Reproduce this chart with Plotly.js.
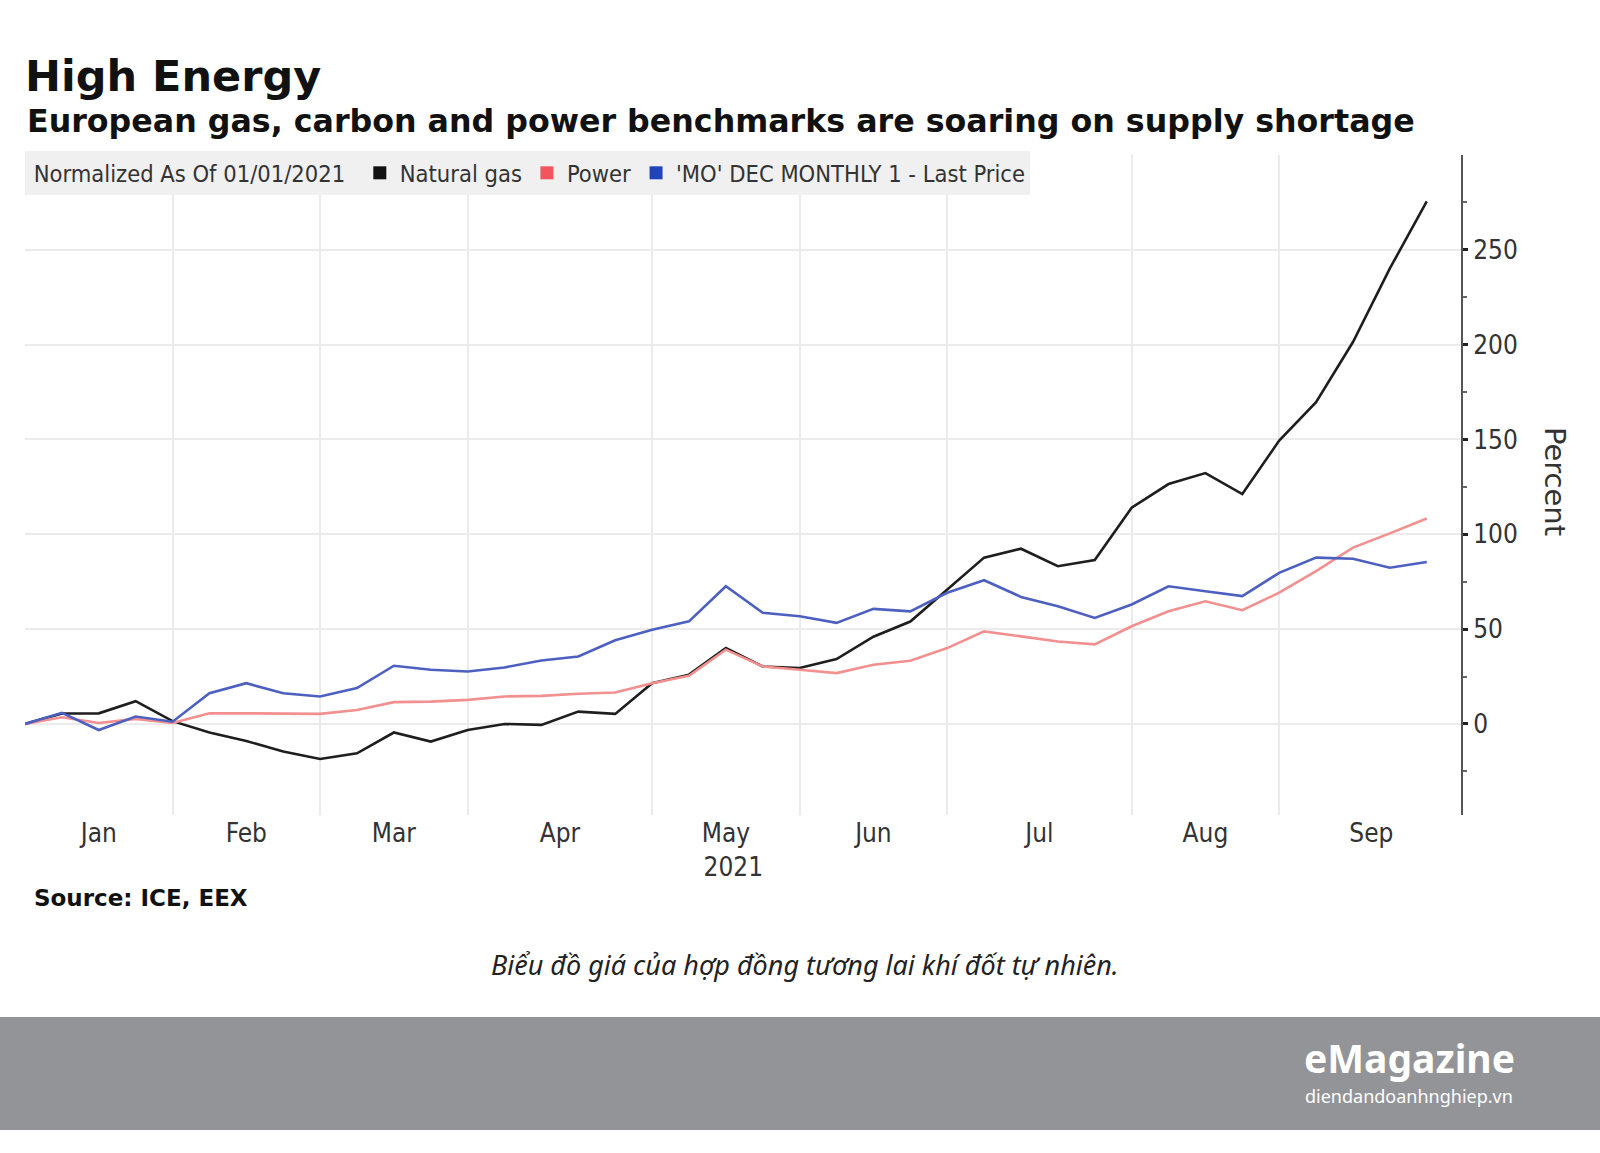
<!DOCTYPE html>
<html>
<head>
<meta charset="utf-8">
<script src="https://cdn.plot.ly/plotly-3.0.1.min.js"></script>
<style>
  html, body { margin: 0; padding: 0; background: #ffffff; }
  #chart { width: 1600px; height: 1153px; }
</style>
</head>
<body>
<div id="chart"></div>
<script>
// ---- Data (weekly, normalized % change since 01/01/2021) ----
const dates = [
  "2021-01-01","2021-01-08","2021-01-15","2021-01-22","2021-01-29",
  "2021-02-05","2021-02-12","2021-02-19","2021-02-26",
  "2021-03-05","2021-03-12","2021-03-19","2021-03-26",
  "2021-04-02","2021-04-09","2021-04-16","2021-04-23","2021-04-30",
  "2021-05-07","2021-05-14","2021-05-21","2021-05-28",
  "2021-06-04","2021-06-11","2021-06-18","2021-06-25",
  "2021-07-02","2021-07-09","2021-07-16","2021-07-23","2021-07-30",
  "2021-08-06","2021-08-13","2021-08-20","2021-08-27",
  "2021-09-03","2021-09-10","2021-09-17","2021-09-24"
];

const naturalGas = [
  0, 5.5, 5.6, 12, 1.5,
  -4.5, -9, -14.5, -18.5,
  -15.5, -4.5, -9.3, -3.2,
  0, -0.5, 6.5, 5.3, 21.5,
  26, 40, 30.3, 29.5,
  34.2, 46, 54, 71,
  87.7, 92.4, 83.2, 86.4, 114,
  126.5, 132.3, 121.2, 149.4,
  169.7, 201.4, 240.2, 275.5
];

const power = [
  0, 3.5, 0.5, 2.7, 0.5,
  5.6, 5.6, 5.3, 5.3,
  7.4, 11.5, 11.8, 12.7,
  14.5, 14.8, 15.9, 16.6, 21.5,
  25.4, 39.2, 30.3, 28.6,
  26.8, 31.2, 33.3, 40,
  48.8, 46.2, 43.5, 42, 51.5,
  59.4, 64.7, 60, 69.2,
  80.6, 93, 100.5, 108.3
];

const carbonMO = [
  0, 5.9, -3.2, 3.9, 1.2,
  16.2, 21.5, 16.2, 14.5,
  18.9, 30.7, 28.6, 27.7,
  29.8, 33.5, 35.6, 44.1, 49.7,
  54.1, 72.6, 58.6, 56.8,
  53.3, 60.7, 59.4, 69.2,
  75.8, 67, 62.1, 55.9, 63,
  72.6, 70, 67.4, 79.7,
  87.7, 87.1, 82.4, 85.4
];

const seriesNames = ["Natural gas", "Power", "'MO' DEC MONTHLY 1 - Last Price"];

// month labels (centred in each month block) and month boundary gridlines
const monthLabelDates = ["2021-01-15","2021-02-12","2021-03-12","2021-04-12 12:00","2021-05-14",
                         "2021-06-11","2021-07-12 12:00","2021-08-13","2021-09-13 12:00"];
const monthLabels = ["Jan","Feb","Mar","Apr","May<br>  2021","Jun","Jul","Aug","Sep"];
const monthGridDates = ["2021-01-29","2021-02-26","2021-03-26","2021-04-30",
                        "2021-05-28","2021-06-25","2021-07-30","2021-08-27"];

const yTicks = [0, 50, 100, 150, 200, 250];
const yMinorTicks = [-25, 25, 75, 125, 175, 225, 275];

// ---- Styling ----
const colBlack = "#1e1e1e";
const colPower = "#f29090";
const colBlue = "#4d60c0";
const condFont = "'DejaVu Sans Condensed', 'Liberation Sans Narrow', 'DejaVu Sans', sans-serif";
const boldFont = "'DejaVu Sans', Verdana, sans-serif";

// plot area geometry in page pixels
const L = 25, R = 1461, T = 155, B = 815;
const px = x => (x - L) / (R - L);
const py = y => (B - y) / (B - T);

const lineTraces = [
  {y: naturalGas, color: colBlack, name: seriesNames[0]},
  {y: power, color: colPower, name: seriesNames[1]},
  {y: carbonMO, color: colBlue, name: seriesNames[2]}
].map(s => ({
  type: "scatter", mode: "lines", x: dates, y: s.y, name: s.name,
  legendgroup: s.name, showlegend: false,
  line: {color: s.color, width: 2.6}, hoverinfo: "x+y+name"
}));

// legend entries drawn as squares like the original
const legendTraces = [
  {color: "#111111", name: seriesNames[0]},
  {color: "#f2555e", name: seriesNames[1]},
  {color: "#2244bb", name: seriesNames[2]}
].map(s => ({
  type: "scatter", mode: "markers", x: [null], y: [null], name: s.name,
  legendgroup: s.name, showlegend: true,
  marker: {symbol: "square", size: 13, color: s.color}
}));

const layout = {
  width: 1600, height: 1153,
  paper_bgcolor: "#ffffff", plot_bgcolor: "#ffffff",
  margin: {l: L, r: 1600 - R, t: T, b: 1153 - B, pad: 0},
  title: {
    text: "<b>High Energy</b>",
    font: {family: boldFont, size: 43, color: "#111111"},
    xref: "container", yref: "container", x: 25 / 1600, xanchor: "left",
    y: 1 - 76 / 1153, yanchor: "middle"
  },
  showlegend: true,
  legend: {
    orientation: "h", x: 0, xanchor: "left", y: 1.006, yanchor: "top",
    bgcolor: "#f0f0f0", borderwidth: 0,
    font: {family: condFont, size: 23.5, color: "#333333"},
    title: {text: " Normalized As Of 01/01/2021 ", side: "left",
            font: {family: condFont, size: 23.5, color: "#333333"}},
    itemwidth: 30, tracegroupgap: 0, traceorder: "normal"
  },
  xaxis: {
    type: "date",
    range: ["2021-01-01", "2021-09-30 12:00"],
    tickmode: "array", tickvals: monthLabelDates, ticktext: monthLabels,
    showgrid: false, showline: false, zeroline: false, ticks: "",
    tickfont: {family: condFont, size: 26, color: "#333333"},
    minor: {tickmode: "array", tickvals: monthGridDates, showgrid: true,
            gridcolor: "#ebebeb", gridwidth: 2, ticks: ""},
    fixedrange: true
  },
  yaxis: {
    side: "right", range: [-48, 300],
    tickmode: "array", tickvals: yTicks, ticktext: yTicks.map(String),
    showgrid: true, gridcolor: "#ebebeb", gridwidth: 2,
    zeroline: false, showline: true, linecolor: "#555555", linewidth: 2,
    ticks: "outside", ticklen: 5, tickwidth: 3, tickcolor: "#222222",
    minor: {tickmode: "array", tickvals: yMinorTicks, ticks: "outside",
            ticklen: 4, tickwidth: 1.5, tickcolor: "#666666", showgrid: false},
    tickfont: {family: condFont, size: 26, color: "#333333"},
    fixedrange: true
  },
  shapes: [
    {type: "rect", xref: "paper", yref: "paper", layer: "below",
     x0: px(0), x1: px(1600), y0: py(1130), y1: py(1017),
     fillcolor: "#939498", line: {width: 0}}
  ],
  annotations: [
    {text: "<b>European gas, carbon and power benchmarks are soaring on supply shortage</b>",
     xref: "paper", yref: "paper", x: px(25), y: py(121), xanchor: "left", yanchor: "middle",
     showarrow: false, font: {family: boldFont, size: 31.7, color: "#111111"}},
    {text: "Percent", xref: "paper", yref: "paper", x: px(1555), y: py(482),
     xanchor: "center", yanchor: "middle", textangle: 90, showarrow: false,
     font: {family: "'DejaVu Sans', sans-serif", size: 29, color: "#333333"}},
    {text: "<b>Source: ICE, EEX</b>", xref: "paper", yref: "paper", x: px(32), y: py(898),
     xanchor: "left", yanchor: "middle", showarrow: false,
     font: {family: boldFont, size: 23, color: "#111111"}},
    {text: "Biểu đồ giá của hợp đồng tương lai khí đốt tự nhiên.", xref: "paper", yref: "paper",
     x: px(805), y: py(964), xanchor: "center", yanchor: "middle", showarrow: false,
     font: {family: "'Noto Sans', sans-serif", size: 27, color: "#222222", style: "italic"}},
    {text: "<b>eMagazine</b>", xref: "paper", yref: "paper", x: px(1517), y: py(1057),
     xanchor: "right", yanchor: "middle", showarrow: false,
     font: {family: "'Noto Sans', sans-serif", size: 39, color: "#ffffff"}},
    {text: "diendandoanhnghiep.vn", xref: "paper", yref: "paper", x: px(1515), y: py(1096),
     xanchor: "right", yanchor: "middle", showarrow: false,
     font: {family: "'Noto Sans', sans-serif", size: 18, color: "#ffffff"}}
  ]
};

Plotly.newPlot("chart", lineTraces.concat(legendTraces), layout,
  {displayModeBar: false, staticPlot: false, responsive: false});
</script>
</body>
</html>
